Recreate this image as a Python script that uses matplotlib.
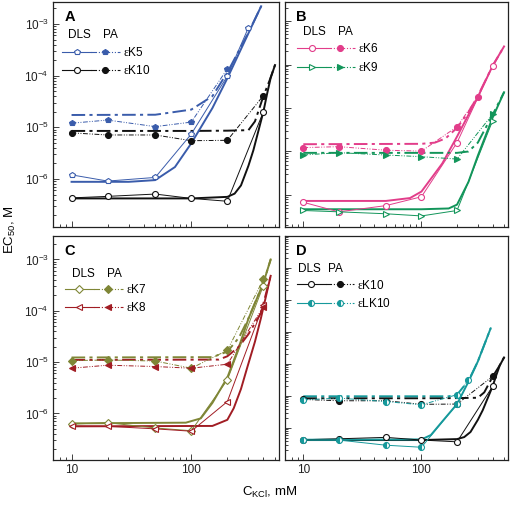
import numpy as np
import matplotlib
matplotlib.use('Agg')
import matplotlib.pyplot as plt
from matplotlib.lines import Line2D
from matplotlib.legend_handler import HandlerTuple
from matplotlib.ticker import LogLocator, NullFormatter, FuncFormatter

plt.rcParams['font.family'] = ['Liberation Sans', 'DejaVu Sans']
plt.rcParams['mathtext.fontset'] = 'custom'
plt.rcParams['mathtext.rm'] = 'Liberation Sans'
plt.rcParams['mathtext.it'] = 'Liberation Sans:italic'
plt.rcParams['mathtext.sf'] = 'Liberation Serif'

# ---------------- data (KCl concentration, mM ; EC50, M) ----------------
conc = [10, 20, 50, 100, 200, 400]

# Panel A : eK5 and eK10
k5_dls_x = [10, 20, 50, 100, 200, 300]
k5_dls_y = [1.2e-6, 9.1e-7, 1.07e-6, 7.4e-6, 9.8e-5, 8.5e-4]
k5_pa_x = [10, 20, 50, 100, 200]
k5_pa_y = [1.2e-5, 1.38e-5, 1.03e-5, 1.26e-5, 1.35e-4]
k5_dls_fit_x = [10, 30, 50, 73, 100, 150, 200, 300, 383]
k5_dls_fit_y = [8.8e-7, 8.8e-7, 9.5e-7, 1.7e-6, 4.9e-6, 2.35e-5, 8.9e-5, 6.6e-4, 2.2e-3]
k5_pa_fit_x = [10, 50, 100, 150, 200, 300, 383]
k5_pa_fit_y = [1.73e-5, 1.75e-5, 2.2e-5, 4.0e-5, 1.15e-4, 6.8e-4, 2.2e-3]

k10_dls_y = [4.3e-7, 4.6e-7, 5.1e-7, 4.2e-7, 3.7e-7, 2.0e-5]
k10_pa_y = [7.8e-6, 7.1e-6, 7.1e-6, 5.5e-6, 5.6e-6, 4.1e-5]
k10_dls_fit_x = [10, 100, 200, 230, 260, 300, 330, 370, 400, 430, 460, 500]
k10_dls_fit_y = [4.2e-7, 4.2e-7, 4.5e-7, 5.2e-7, 7.5e-7, 1.8e-6, 3.6e-6, 1.0e-5, 2.0e-5, 4.5e-5, 9.0e-5, 1.6e-4]
k10_pa_fit_x = [10, 100, 200, 300, 340, 400, 450, 500]
k10_pa_fit_y = [8.5e-6, 8.5e-6, 8.6e-6, 8.8e-6, 1.3e-5, 4.0e-5, 8.0e-5, 1.6e-4]

# Panel B : eK6 and eK9
k6_dls_y = [6.8e-7, 4.1e-7, 5.7e-7, 9.1e-7, 1.6e-5, 9.3e-4]
k6_pa_x = [10, 20, 50, 100, 200, 300]
k6_pa_y = [1.23e-5, 1.29e-5, 1.07e-5, 1.02e-5, 3.7e-5, 1.8e-4]
k6_dls_fit_x = [10, 50, 80, 100, 150, 200, 300, 400, 500]
k6_dls_fit_y = [7.3e-7, 7.3e-7, 8.5e-7, 1.2e-6, 5.3e-6, 2.2e-5, 1.8e-4, 9.3e-4, 2.6e-3]
k6_pa_fit_x = [10, 100, 130, 160, 200, 250, 300, 400, 500]
k6_pa_fit_y = [1.47e-5, 1.5e-5, 1.6e-5, 2.0e-5, 3.5e-5, 8.0e-5, 1.9e-4, 9.3e-4, 2.6e-3]

k9_dls_y = [4.4e-7, 4.1e-7, 3.7e-7, 3.3e-7, 4.4e-7, 5.1e-5]
k9_pa_y = [8.3e-6, 9.4e-6, 8.3e-6, 7.6e-6, 6.7e-6, 7.2e-5]
k9_dls_fit_x = [10, 100, 170, 200, 250, 300, 400, 500]
k9_dls_fit_y = [4.7e-7, 4.7e-7, 4.9e-7, 6.0e-7, 2.0e-6, 8.0e-6, 6.0e-5, 2.3e-4]
k9_pa_fit_x = [10, 200, 250, 300, 400, 500]
k9_pa_fit_y = [9.3e-6, 9.3e-6, 1.0e-5, 1.6e-5, 7.0e-5, 2.3e-4]

# Panel C : eK7 and eK8
k7_dls_y = [6.2e-7, 6.6e-7, 5.2e-7, 4.6e-7, 4.5e-6, 3.1e-4]
k7_pa_y = [1.07e-5, 1.1e-5, 1.05e-5, 7.6e-6, 1.7e-5, 4.1e-4]
k7_dls_fit_x = [10, 90, 120, 150, 200, 250, 300, 400, 460]
k7_dls_fit_y = [6.4e-7, 6.6e-7, 8.0e-7, 1.6e-6, 5.0e-6, 2.0e-5, 7.0e-5, 3.5e-4, 1.0e-3]
k7_pa_fit_x = [10, 150, 200, 250, 300, 400, 460]
k7_pa_fit_y = [1.23e-5, 1.25e-5, 1.6e-5, 3.0e-5, 7.1e-5, 3.5e-4, 1.0e-3]

k8_dls_y = [5.7e-7, 5.6e-7, 5.0e-7, 4.5e-7, 1.7e-6, 1.3e-4]
k8_pa_y = [7.6e-6, 8.7e-6, 8.2e-6, 7.6e-6, 9.1e-6, 1.2e-4]
k8_dls_fit_x = [10, 150, 200, 226, 260, 292, 340, 381, 460]
k8_dls_fit_y = [5.6e-7, 5.7e-7, 7.5e-7, 1.26e-6, 3.0e-6, 7.6e-6, 2.5e-5, 7.1e-5, 4.8e-4]
k8_pa_fit_x = [10, 170, 200, 250, 300, 381, 460]
k8_pa_fit_y = [1.1e-5, 1.12e-5, 1.3e-5, 2.0e-5, 3.5e-5, 9.0e-5, 4.8e-4]

# Panel D : eK10 and eLK10
lk10_dls_x = [10, 20, 50, 100, 200]
lk10_dls_y = [4.3e-7, 4.2e-7, 2.9e-7, 2.5e-7, 5.6e-6]
lk10_pa_x = [10, 20, 50, 100, 200, 250]
lk10_pa_y = [7.6e-6, 8.6e-6, 6.7e-6, 5.3e-6, 1.1e-5, 3.2e-5]
lk10_dls_fit_x = [10, 100, 120, 150, 200, 250, 300, 385]
lk10_dls_fit_y = [4.3e-7, 4.4e-7, 6.0e-7, 1.6e-6, 5.6e-6, 2.8e-5, 1.2e-4, 1.3e-3]
lk10_pa_fit_x = [10, 170, 200, 250, 300, 385]
lk10_pa_fit_y = [9.8e-6, 9.8e-6, 1.1e-5, 3.0e-5, 1.2e-4, 1.3e-3]

# ---------------- styles ----------------
BLUE = '#3a5cab'
BLACK = '#111111'
PINK = '#e23d8a'
GREEN = '#12955a'
OLIVE = '#7f8636'
RED = '#a11d24'
TEAL = '#16999b'

PA_DATA_DASH = (5, 1.6, 1, 1.6, 1, 1.6)
PA_FIT_DASH = (7, 2.2, 1.6, 2.2)
MS = 4.3


def series(ax, color, marker, dls_x, dls_y, pa_x, pa_y, fx, fy, pfx, pfy, half=False):
    ax.plot(fx, fy, color=color, lw=1.4, zorder=2)
    ax.plot(pfx, pfy, color=color, lw=1.4, dashes=PA_FIT_DASH, zorder=2)
    if half:
        kw_open = dict(mfc=color, mfcalt='white', fillstyle='left', mec=color)
        kw_fill = dict(mfc=color, mfcalt='white', fillstyle='left', mec=color)
    else:
        kw_open = dict(mfc='white', mec=color)
        kw_fill = dict(mfc=color, mec=color)
    ax.plot(dls_x, dls_y, color=color, lw=0.7, marker=marker, ms=MS, mew=0.8, zorder=3, **kw_open)
    ax.plot(pa_x, pa_y, color=color, lw=0.7, dashes=PA_DATA_DASH, marker=marker, ms=MS, mew=0.8,
            zorder=3, **kw_fill)


def legend(ax, entries, hx, hy, px, lx, ly):
    ax.text(hx, hy, 'DLS', transform=ax.transAxes, fontsize=8.5, va='center', ha='left')
    ax.text(px, hy, 'PA', transform=ax.transAxes, fontsize=8.5, va='center', ha='left')
    handles, labels = [], []
    for color, marker, half, label in entries:
        if half:
            k1 = dict(mfc=color, mfcalt='white', fillstyle='left', mec=color)
            k2 = k1
        else:
            k1 = dict(mfc='white', mec=color)
            k2 = dict(mfc=color, mec=color)
        h1 = Line2D([], [], color=color, lw=0.8, marker=marker, ms=MS, mew=0.8, **k1)
        h2 = Line2D([], [], color=color, lw=0.8, dashes=PA_DATA_DASH, marker=marker, ms=MS,
                    mew=0.8, **k2)
        handles.append((h1, h2))
        labels.append(label)
    ax.legend(handles, labels, handler_map={tuple: HandlerTuple(ndivide=None, pad=0)},
              loc='upper left', bbox_to_anchor=(lx, ly), frameon=False, handlelength=4.9,
              handletextpad=0.25, labelspacing=0.45, borderpad=0, borderaxespad=0,
              fontsize=8.5, numpoints=1)


fig = plt.figure(figsize=(5.11, 5.05), dpi=100)
W, H = 511.0, 505.0


def mkax(l, r, t, b):
    return fig.add_axes([l / W, 1 - b / H, (r - l) / W, (b - t) / H])


axA = mkax(53, 279, 2, 227)
axB = mkax(285, 508, 2, 227)
axC = mkax(53, 279, 236, 460)
axD = mkax(285, 508, 236, 460)

ylims = {
    'A': (10 ** -6.93, 10 ** -2.575),
    'B': (10 ** -6.736, 10 ** -1.563),
    'C': (10 ** -6.908, 10 ** -2.542),
    'D': (1e-7, 1e0),
}

for name, ax in zip('ABCD', [axA, axB, axC, axD]):
    ax.set_xscale('log')
    ax.set_yscale('log')
    ax.set_xlim(7, 540)
    ax.set_ylim(*ylims[name])
    ax.set_xticks([10, 100])
    ax.xaxis.set_minor_locator(LogLocator(base=10, subs=np.arange(2, 10), numticks=100))
    ax.xaxis.set_major_formatter(FuncFormatter(lambda v, p: f'{v:g}'))
    ax.xaxis.set_minor_formatter(NullFormatter())
    ax.yaxis.set_major_locator(LogLocator(base=10, numticks=100))
    ax.yaxis.set_minor_locator(LogLocator(base=10, subs=np.arange(2, 10), numticks=100))
    ax.yaxis.set_minor_formatter(NullFormatter())
    ax.tick_params(which='both', direction='in', top=False, right=False, width=0.6,
                   labelsize=8.5, pad=3, colors='#222222')
    ax.tick_params(which='major', length=4)
    ax.tick_params(which='minor', length=2.2)
    for s in ax.spines.values():
        s.set_linewidth(0.9)
        s.set_color('#222222')
    ax.text(0.05, 0.965, name, transform=ax.transAxes, fontsize=10.5, fontweight='bold',
            va='top', ha='left')

axA.tick_params(labelbottom=False)
axB.tick_params(labelbottom=False, labelleft=False)
axD.tick_params(labelleft=False)

EPS = r'$\mathsf{\varepsilon}$'

# Panel A
series(axA, BLACK, 'o', conc, k10_dls_y, conc, k10_pa_y, k10_dls_fit_x, k10_dls_fit_y,
       k10_pa_fit_x, k10_pa_fit_y)
series(axA, BLUE, 'p', k5_dls_x, k5_dls_y, k5_pa_x, k5_pa_y, k5_dls_fit_x, k5_dls_fit_y,
       k5_pa_fit_x, k5_pa_fit_y)
legend(axA, [(BLUE, 'p', False, EPS + 'K5'), (BLACK, 'o', False, EPS + 'K10')],
       0.066, 0.853, 0.221, 0.04, 0.805)

# Panel B
series(axB, PINK, 'o', conc, k6_dls_y, k6_pa_x, k6_pa_y, k6_dls_fit_x, k6_dls_fit_y,
       k6_pa_fit_x, k6_pa_fit_y)
series(axB, GREEN, '>', conc, k9_dls_y, conc, k9_pa_y, k9_dls_fit_x, k9_dls_fit_y,
       k9_pa_fit_x, k9_pa_fit_y)
legend(axB, [(PINK, 'o', False, EPS + 'K6'), (GREEN, '>', False, EPS + 'K9')],
       0.081, 0.868, 0.236, 0.054, 0.82)

# Panel C
series(axC, OLIVE, 'D', conc, k7_dls_y, conc, k7_pa_y, k7_dls_fit_x, k7_dls_fit_y,
       k7_pa_fit_x, k7_pa_fit_y)
series(axC, RED, '<', conc, k8_dls_y, conc, k8_pa_y, k8_dls_fit_x, k8_dls_fit_y,
       k8_pa_fit_x, k8_pa_fit_y)
legend(axC, [(OLIVE, 'D', False, EPS + 'K7'), (RED, '<', False, EPS + 'K8')],
       0.083, 0.83, 0.237, 0.053, 0.79)

# Panel D
series(axD, BLACK, 'o', conc, k10_dls_y, conc, k10_pa_y, k10_dls_fit_x, k10_dls_fit_y,
       k10_pa_fit_x, k10_pa_fit_y)
series(axD, TEAL, 'o', lk10_dls_x, lk10_dls_y, lk10_pa_x, lk10_pa_y, lk10_dls_fit_x,
       lk10_dls_fit_y, lk10_pa_fit_x, lk10_pa_fit_y, half=True)
legend(axD, [(BLACK, 'o', False, EPS + 'K10'), (TEAL, 'o', True, EPS + 'LK10')],
       0.06, 0.851, 0.194, 0.052, 0.81)

fig.text(10 / W, 1 - 230 / H, 'EC$_{50}$, M', rotation=90, fontsize=9.5, ha='center', va='center')
fig.text(270 / W, 1 - 492 / H, 'C$_{\\rm KCl}$, mM', fontsize=9.5, ha='center', va='center')

fig.savefig('out.png', dpi=100)
